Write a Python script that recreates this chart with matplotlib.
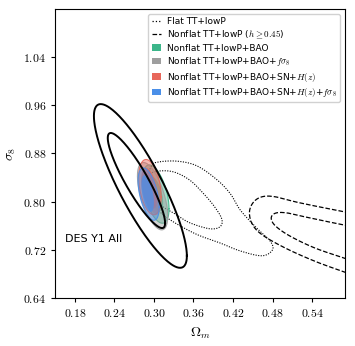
import numpy as np
import matplotlib
matplotlib.use("Agg")
import matplotlib.pyplot as plt
from matplotlib.lines import Line2D
from matplotlib.patches import Patch
from matplotlib.ticker import FuncFormatter

plt.rcParams["mathtext.fontset"] = "cm"
plt.rcParams["font.family"] = "DejaVu Sans"

# Flat TT+lowP (dotted), outlines as (Omega_m, sigma_8)
flat_outer_om = [0.296, 0.308, 0.337, 0.366, 0.396, 0.416, 0.431, 0.456, 0.476, 0.480,
                 0.464, 0.431, 0.401, 0.366, 0.333, 0.311, 0.296, 0.290]
flat_outer_s8 = [0.859, 0.866, 0.867, 0.859, 0.836, 0.813, 0.786, 0.756, 0.735, 0.720,
                 0.710, 0.718, 0.731, 0.745, 0.764, 0.781, 0.803, 0.831]
flat_inner_om = [0.294, 0.309, 0.331, 0.354, 0.373, 0.391, 0.403, 0.400, 0.384, 0.354,
                 0.333, 0.311, 0.299, 0.297]
flat_inner_s8 = [0.846, 0.851, 0.849, 0.836, 0.816, 0.793, 0.771, 0.758, 0.755, 0.765,
                 0.779, 0.794, 0.816, 0.836]

# Nonflat TT+lowP (h >= 0.45), dashed, open past the right edge
nonflat_outer_om = [0.619, 0.589, 0.521, 0.484, 0.464, 0.451, 0.445, 0.449, 0.464, 0.499,
                    0.544, 0.589, 0.619]
nonflat_outer_s8 = [0.777, 0.783, 0.798, 0.808, 0.808, 0.799, 0.783, 0.763, 0.745, 0.723,
                    0.701, 0.683, 0.672]
nonflat_inner_om = [0.619, 0.589, 0.536, 0.503, 0.485, 0.478, 0.484, 0.506, 0.544, 0.589, 0.619]
nonflat_inner_s8 = [0.755, 0.761, 0.773, 0.781, 0.781, 0.773, 0.760, 0.743, 0.723, 0.706, 0.695]

# ellipse contours: centre om, centre s8, half-width om, half-height s8, correlation
des_outer = [0.2795, 0.826, 0.0705, 0.136, -0.853]
des_inner = [0.2735, 0.835, 0.0435, 0.079, -0.894]
bao = [[0.303, 0.8125, 0.020, 0.0485, -0.5], [0.302, 0.813, 0.012, 0.029, -0.5]]
bao_fs8 = [[0.298, 0.809, 0.023, 0.056, -0.6], [0.297, 0.811, 0.013, 0.033, -0.6]]
bao_sn_hz = [[0.294, 0.824, 0.017, 0.046, -0.35], [0.293, 0.822, 0.0125, 0.034, -0.4]]
bao_sn_hz_fs8 = [[0.292, 0.8125, 0.016, 0.0435, -0.5], [0.2905, 0.8135, 0.0095, 0.0305, -0.5]]

x_ticks = [0.18, 0.24, 0.30, 0.36, 0.42, 0.48, 0.54]
y_ticks = [0.64, 0.72, 0.80, 0.88, 0.96, 1.04]

labels = [
    "Flat TT+lowP",
    r"Nonflat TT+lowP ($h \geq 0.45$)",
    "Nonflat TT+lowP+BAO",
    r"Nonflat TT+lowP+BAO+$f\sigma_8$",
    r"Nonflat TT+lowP+BAO+SN+$H(z)$",
    r"Nonflat TT+lowP+BAO+SN+$H(z)$+$f\sigma_8$",
]
colors = ["#3cb68a", "#9e9e9e", "#e8675b", "#4a8fe8"]


def ellipse(cx, cy, ax, ay, rho, n=300):
    t = np.linspace(0, 2 * np.pi, n)
    return cx + ax * np.cos(t), cy + ay * (rho * np.cos(t) + np.sqrt(1 - rho ** 2) * np.sin(t))


def spline(xs, ys, closed, n=20):
    # catmull-rom through the read-off points
    p = np.column_stack([xs, ys])
    if closed:
        p = np.vstack([p[-1], p, p[0], p[1]])
    else:
        p = np.vstack([2 * p[0] - p[1], p, 2 * p[-1] - p[-2]])
    t = np.linspace(0, 1, n, endpoint=False)[:, None]
    out = []
    for i in range(1, len(p) - 2):
        p0, p1, p2, p3 = p[i - 1], p[i], p[i + 1], p[i + 2]
        out.append(0.5 * (2 * p1 + (-p0 + p2) * t + (2 * p0 - 5 * p1 + 4 * p2 - p3) * t ** 2
                          + (-p0 + 3 * p1 - 3 * p2 + p3) * t ** 3))
    out.append(p[-2][None, :])
    out = np.vstack(out)
    return out[:, 0], out[:, 1]


fig = plt.figure(figsize=(3.55, 3.46), dpi=100)
ax = fig.add_axes([0.155, 0.139, 0.817, 0.835])

for xs, ys in [(flat_outer_om, flat_outer_s8), (flat_inner_om, flat_inner_s8)]:
    ax.plot(*spline(xs, ys, True), color="black", ls=(0, (1, 1.3)), lw=0.8, zorder=2)
for xs, ys in [(nonflat_outer_om, nonflat_outer_s8), (nonflat_inner_om, nonflat_inner_s8)]:
    ax.plot(*spline(xs, ys, False), color="black", ls="--", lw=0.9, zorder=2)

for sets, c in zip([bao, bao_fs8, bao_sn_hz, bao_sn_hz_fs8], colors):
    ex, ey = ellipse(*sets[0])
    ax.fill(ex, ey, facecolor=c, alpha=0.45, edgecolor="none", zorder=3)
    ax.plot(ex, ey, color=c, lw=0.8, alpha=0.9, zorder=3)
    ex, ey = ellipse(*sets[1])
    ax.fill(ex, ey, facecolor=c, alpha=0.75, edgecolor="none", zorder=3)

for e in (des_outer, des_inner):
    ax.plot(*ellipse(*e), color="black", lw=1.4, zorder=4)

ax.text(0.165, 0.738, "DES Y1 All", fontsize=8, va="center", ha="left")

ax.set_xlim(0.15, 0.59)
ax.set_ylim(0.64, 1.12)
ax.set_xticks(x_ticks)
ax.set_yticks(y_ticks)
fmt = FuncFormatter(lambda v, _: f"${v:.2f}$")
ax.xaxis.set_major_formatter(fmt)
ax.yaxis.set_major_formatter(fmt)
ax.tick_params(labelsize=8.5, length=3, width=0.8, direction="out", top=False, right=False)
ax.set_xlabel(r"$\Omega_m$", fontsize=10)
ax.set_ylabel(r"$\sigma_8$", fontsize=10)

handles = [
    Line2D([], [], color="black", ls=":", lw=0.9),
    Line2D([], [], color="black", ls="--", lw=0.9),
] + [Patch(facecolor=c, edgecolor="none") for c in colors]
ax.legend(handles, labels, loc="upper right", fontsize=6.5, handlelength=1.1,
          handletextpad=0.6, labelspacing=0.28, borderpad=0.35, borderaxespad=0.55,
          framealpha=0.9, edgecolor="0.8")

fig.savefig("out.png", dpi=100)
